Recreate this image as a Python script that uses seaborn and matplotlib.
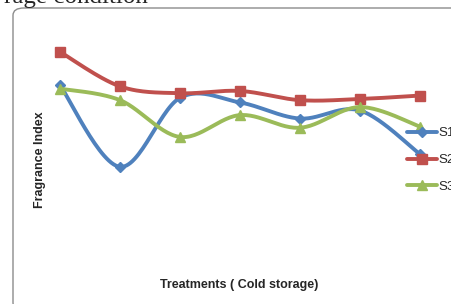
"""Fragrance index of three samples across cold storage treatments."""

import matplotlib.pyplot as plt
import numpy as np
import pandas as pd
import seaborn as sns
from matplotlib.patches import FancyBboxPatch

treatments = ["T1", "T2", "T3", "T4", "T5", "T6", "T7"]
s1 = [7.6, 4.05, 7.05, 6.85, 6.15, 6.5, 4.6]
s2 = [9.05, 7.55, 7.25, 7.35, 6.95, 7.0, 7.15]
s3 = [7.45, 6.95, 5.35, 6.3, 5.75, 6.65, 5.8]

series_names = ["S1", "S2", "S3"]
colors = {"S1": "#4F81BD", "S2": "#C0504D", "S3": "#9BBB59"}
markers = {"S1": "D", "S2": "s", "S3": "^"}
marker_sizes = {"S1": 5.5, "S2": 6.5, "S3": 7}


def smooth(x, y, steps=30):
    # Excel-style smoothed line (Catmull-Rom through every point)
    x = np.asarray(x, float)
    y = np.asarray(y, float)
    px = np.concatenate([[x[0]], x, [x[-1]]])
    py = np.concatenate([[y[0]], y, [y[-1]]])
    xs, ys = [], []
    t = np.linspace(0, 1, steps)
    for i in range(1, len(px) - 2):
        for p, out in ((px, xs), (py, ys)):
            p0, p1, p2, p3 = p[i - 1], p[i], p[i + 1], p[i + 2]
            c1 = p1 + (p2 - p0) / 6
            c2 = p2 - (p3 - p1) / 6
            out.extend((1 - t) ** 3 * p1 + 3 * (1 - t) ** 2 * t * c1
                       + 3 * (1 - t) * t ** 2 * c2 + t ** 3 * p2)
    return np.array(xs), np.array(ys)


def main() -> None:
    sns.set_theme(style="white")
    plt.rcParams["font.family"] = ["Liberation Sans", "DejaVu Sans"]

    df = pd.DataFrame({"treatment": treatments, "S1": s1, "S2": s2, "S3": s3})
    df["pos"] = np.arange(len(df))
    long = df.melt(id_vars=["treatment", "pos"], value_vars=series_names,
                   var_name="series", value_name="index")

    fig = plt.figure(figsize=(4.52, 3.04), dpi=100)
    ax = fig.add_axes([30 / 452, 44 / 304, 420 / 452, 230 / 304])

    for name in series_names:
        sub = long[long["series"] == name]
        sx, sy = smooth(sub["pos"], sub["index"])
        sns.lineplot(x=sx, y=sy, ax=ax, color=colors[name], lw=2.8, sort=False,
                     legend=False)
        ax.plot(sub["pos"], sub["index"], ls="none", marker=markers[name],
                ms=marker_sizes[name], color=colors[name], mec=colors[name])

    ax.set_xlim(-0.5, 6.5)
    ax.set_ylim(0, 10)
    ax.set_xticks([])
    ax.set_yticks([])
    for side in ax.spines.values():
        side.set_visible(False)
    ax.patch.set_alpha(0)

    handles = [plt.Line2D([], [], color=colors[n], lw=2.8, marker=markers[n],
                          ms=marker_sizes[n]) for n in series_names]
    fig.legend(handles, series_names, loc="center left",
               bbox_to_anchor=(400 / 452, 1 - 160 / 304), frameon=False,
               fontsize=9.5, handlelength=2.3, handletextpad=0.1,
               labelspacing=1.1, borderpad=0)

    fig.text(40 / 452, 1 - 160 / 304, "Fragrance Index", rotation=90,
             ha="center", va="center", fontsize=9, fontweight="bold")
    fig.text(239 / 452, 1 - 285 / 304, "Treatments ( Cold storage)",
             ha="center", va="center", fontsize=9, fontweight="bold")

    fig.text(148 / 452, 1 - 3.5 / 304, "rage condition", ha="right",
             va="baseline", fontsize=18, family="Liberation Serif")

    frame = FancyBboxPatch((13 / 452, -0.02), 1.2, 1 - 8 / 304 + 0.02,
                           boxstyle="round,pad=0,rounding_size=0.024",
                           transform=fig.transFigure, fill=False,
                           ec="#8c8c8c", lw=1.0, clip_on=False)
    fig.patches.append(frame)

    fig.savefig("out.png", dpi=100)
    plt.close(fig)


if __name__ == "__main__":
    main()
